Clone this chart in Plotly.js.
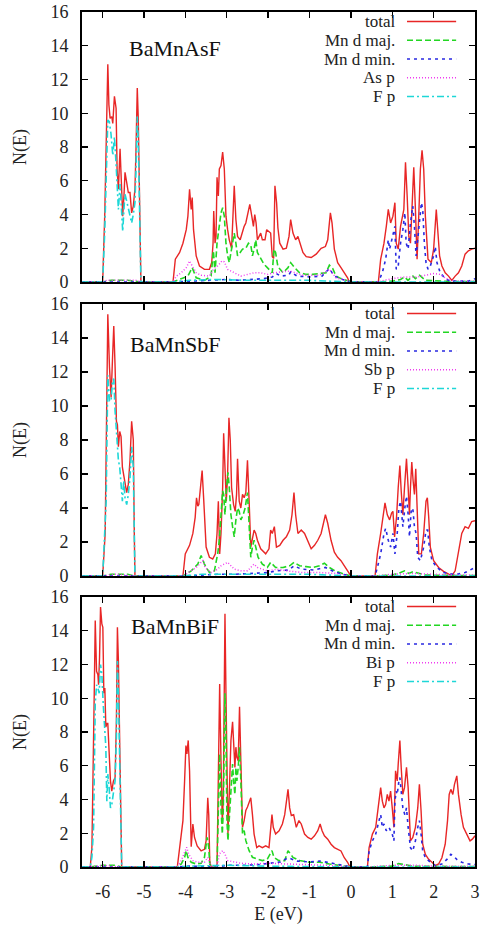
<!DOCTYPE html>
<html>
<head>
<meta charset="utf-8">
<script src="https://cdn.plot.ly/plotly-3.0.1.min.js"></script>
<style>html,body{margin:0;padding:0;background:#fff;}#chart{width:480px;height:928px;}</style>
</head>
<body>
<div id="chart"></div>
<script>
// ---------- data: [E (eV), N(E)] ----------
const compounds = ['BaMnAsF', 'BaMnSbF', 'BaMnBiF'];
const seriesNames = [
  ['total', 'Mn d maj.', 'Mn d min.', 'As p', 'F p'],
  ['total', 'Mn d maj.', 'Mn d min.', 'Sb p', 'F p'],
  ['total', 'Mn d maj.', 'Mn d min.', 'Bi p', 'F p']
];
const xTicks = [-6, -5, -4, -3, -2, -1, 0, 1, 2, 3];
const yTicks = [0, 2, 4, 6, 8, 10, 12, 14, 16];

// BaMnAsF
const asTotal = [[-6.5,0],[-6.0,0],[-5.95,4],[-5.9,10.5],[-5.876,12.9],[-5.85,10.5],[-5.82,9.7],[-5.78,9.8],[-5.756,9.4],[-5.716,11.0],[-5.676,10.3],[-5.652,6.7],[-5.62,5.5],[-5.58,7.9],[-5.54,5.5],[-5.516,3.9],[-5.484,5.2],[-5.46,6.5],[-5.42,5.9],[-5.38,5.3],[-5.34,5.3],[-5.3,4.1],[-5.26,4.5],[-5.22,5.5],[-5.196,7.7],[-5.164,11.5],[-5.14,9.7],[-5.1,2.3],[-5.076,0],
  [-4.3,0],[-4.244,1.35],[-4.14,1.75],[-4.06,2.3],[-3.98,3.1],[-3.94,3.9],[-3.9,5.5],[-3.86,4.3],[-3.836,5.0],[-3.804,3.1],[-3.74,1.55],[-3.66,0.95],[-3.54,0.75],[-3.42,0.75],[-3.364,1.15],[-3.332,2.3],[-3.316,4.2],[-3.284,2.3],[-3.26,2.7],[-3.236,6.2],[-3.204,5.1],[-3.18,6.7],[-3.14,6.9],[-3.1,7.7],[-3.06,6.7],[-3.02,3.9],[-2.98,3.1],[-2.94,2.5],[-2.884,2.0],[-2.852,4.3],[-2.82,5.7],[-2.78,3.7],[-2.74,2.7],[-2.676,2.5],[-2.62,3.0],[-2.58,3.3],[-2.54,3.5],[-2.5,3.9],[-2.444,4.6],[-2.396,3.9],[-2.356,3.3],[-2.324,4.0],[-2.292,3.5],[-2.26,2.5],[-2.22,2.7],[-2.18,2.9],[-2.14,2.5],[-2.076,2.5],[-2.036,3.1],[-1.98,3.0],[-1.94,2.9],[-1.9,1.5],[-1.868,1.4],[-1.836,5.7],[-1.796,4.7],[-1.764,3.2],[-1.72,2.3],[-1.64,1.95],[-1.56,2.0],[-1.496,2.7],[-1.456,3.7],[-1.4,2.9],[-1.336,2.5],[-1.28,2.7],[-1.224,2.3],[-1.16,1.75],[-1.08,1.5],[-0.96,1.45],[-0.84,1.65],[-0.72,2.0],[-0.616,2.1],[-0.56,2.5],[-0.496,4.1],[-0.456,3.5],[-0.4,1.95],[-0.32,1.15],[-0.24,0.85],[-0.16,0.55],[-0.08,0.25],[-0.04,0],
  [0.664,0],[0.72,1.35],[0.8,2.3],[0.856,3.3],[0.904,4.3],[0.96,3.5],[1.016,3.9],[1.064,4.7],[1.096,2.3],[1.144,1.95],[1.2,3.3],[1.28,4.3],[1.32,7.1],[1.36,5.1],[1.4,2.7],[1.44,2.3],[1.48,4.7],[1.52,6.8],[1.56,4.3],[1.6,1.35],[1.64,3.9],[1.68,6.7],[1.72,7.8],[1.76,6.7],[1.8,3.9],[1.864,1.35],[1.944,1.15],[2.0,1.95],[2.064,4.3],[2.104,3.1],[2.144,1.55],[2.2,0.95],[2.28,0.55],[2.36,0.35],[2.44,0.1],[2.52,0.35],[2.6,0.55],[2.68,0.95],[2.76,1.65],[2.84,1.85],[2.92,1.95],[3.0,2.0]];
const asMnMaj = [[-6.5,0],[-6.0,0],[-5.8,0.1],[-5.4,0.1],[-5.076,0],[-4.3,0],[-4.1,0.2],[-3.94,0.35],[-3.836,0.85],[-3.74,0.25],[-3.54,0.1],[-3.38,0.35],[-3.324,1.85],[-3.284,0.55],[-3.236,2.3],[-3.18,3.5],[-3.14,4.1],[-3.1,4.4],[-3.06,3.9],[-3.02,2.3],[-2.98,1.55],[-2.94,1.15],[-2.884,1.95],[-2.82,2.9],[-2.78,2.3],[-2.74,1.55],[-2.676,1.75],[-2.62,1.95],[-2.54,2.0],[-2.476,2.3],[-2.42,2.2],[-2.38,1.55],[-2.34,1.95],[-2.3,2.5],[-2.26,1.75],[-2.18,1.35],[-2.1,1.05],[-2.02,0.85],[-1.9,0.55],[-1.86,1.95],[-1.82,1.75],[-1.764,0.9],[-1.64,0.55],[-1.52,0.85],[-1.456,1.15],[-1.36,0.85],[-1.24,0.55],[-1.08,0.45],[-0.92,0.45],[-0.76,0.5],[-0.6,0.55],[-0.52,1.0],[-0.44,0.8],[-0.36,0.35],[-0.24,0.2],[-0.04,0.05],[0,0],
  [0.664,0],[1.0,0.05],[1.2,0.15],[1.3,0.3],[1.38,0.1],[1.5,0.35],[1.56,0.2],[1.66,0.4],[1.8,0.1],[2.2,0.05],[3.0,0.02]];
const asMnMin = [[-6.5,0],[-4.3,0],[-3.9,0.05],[-3.3,0.1],[-3.0,0.15],[-2.7,0.1],[-2.4,0.15],[-2.1,0.2],[-1.9,0.3],[-1.8,0.5],[-1.7,0.35],[-1.5,0.4],[-1.456,0.6],[-1.3,0.35],[-1.0,0.3],[-0.7,0.35],[-0.52,0.8],[-0.4,0.35],[-0.2,0.15],[0,0],
  [0.664,0],[0.76,0.55],[0.84,1.35],[0.904,2.5],[0.936,1.95],[1.016,2.7],[1.064,3.3],[1.096,0.75],[1.144,0.95],[1.2,2.3],[1.256,3.1],[1.304,4.1],[1.336,2.3],[1.384,1.95],[1.44,3.5],[1.496,4.5],[1.536,3.3],[1.576,1.55],[1.616,2.7],[1.656,3.5],[1.704,4.7],[1.736,4.3],[1.776,2.3],[1.816,1.15],[1.864,0.75],[1.92,0.95],[2.0,1.55],[2.04,2.1],[2.08,1.15],[2.16,0.55],[2.28,0.2],[2.4,0.05],[2.84,0.05],[3.0,0.2]];
const asP = [[-6.5,0],[-6.0,0],[-5.9,0.1],[-5.5,0.1],[-5.2,0.1],[-5.076,0],[-4.3,0],[-4.22,0.35],[-4.1,0.55],[-3.98,0.85],[-3.9,1.25],[-3.836,0.95],[-3.74,0.55],[-3.62,0.4],[-3.42,0.35],[-3.324,0.75],[-3.2,1.0],[-3.12,1.25],[-3.06,1.2],[-2.98,0.75],[-2.82,0.55],[-2.66,0.35],[-2.5,0.45],[-2.34,0.55],[-2.18,0.55],[-2.02,0.45],[-1.86,0.55],[-1.48,0.65],[-1.16,0.4],[-0.76,0.4],[-0.52,0.75],[-0.36,0.25],[-0.04,0.05],[0,0],
  [0.664,0],[0.8,0.1],[1.0,0.2],[1.3,0.3],[1.6,0.3],[1.8,0.4],[2.0,0.5],[2.16,0.45],[2.3,0.2],[2.5,0.05],[3.0,0.05]];
const asFp = [[-6.5,0],[-6.0,0],[-5.95,3],[-5.9,8.0],[-5.876,9.6],[-5.84,9.5],[-5.8,8.8],[-5.756,7.5],[-5.716,8.6],[-5.676,7.0],[-5.652,5.5],[-5.62,4.3],[-5.58,5.8],[-5.54,4.0],[-5.516,3.0],[-5.484,4.4],[-5.46,5.2],[-5.42,4.8],[-5.38,4.3],[-5.34,3.8],[-5.3,3.5],[-5.26,4.0],[-5.22,4.7],[-5.196,6.5],[-5.164,9.8],[-5.14,8.5],[-5.1,2.0],[-5.076,0],[-4.3,0],[-3.9,0.1],[-3.3,0.15],[-2.5,0.1],[-1.0,0.1],[0,0],[3.0,0]];

// BaMnSbF
const sbTotal = [[-6.5,0],[-6.0,0],[-5.94,2.5],[-5.916,8.4],[-5.876,15.4],[-5.836,12.3],[-5.796,10.5],[-5.764,12.7],[-5.732,14.7],[-5.7,12.3],[-5.668,9.1],[-5.644,8.9],[-5.62,7.6],[-5.588,8.5],[-5.556,8.2],[-5.524,6.4],[-5.492,6.0],[-5.46,5.4],[-5.42,4.9],[-5.38,5.4],[-5.34,6.8],[-5.3,9.1],[-5.26,8.0],[-5.236,2.5],[-5.22,0],
  [-4.06,0],[-4.004,1.3],[-3.9,1.8],[-3.82,2.5],[-3.764,3.45],[-3.732,4.6],[-3.7,4.1],[-3.676,4.2],[-3.636,5.2],[-3.596,6.2],[-3.556,4.4],[-3.5,1.7],[-3.42,1.1],[-3.34,1.0],[-3.276,1.3],[-3.236,2.5],[-3.204,4.4],[-3.172,1.3],[-3.14,2.5],[-3.1,5.2],[-3.076,8.4],[-3.044,6.4],[-3.012,4.4],[-2.98,6.0],[-2.948,9.3],[-2.916,8.0],[-2.884,5.2],[-2.836,4.2],[-2.796,3.8],[-2.764,4.8],[-2.74,6.9],[-2.7,4.4],[-2.66,4.0],[-2.62,4.8],[-2.58,4.6],[-2.54,4.9],[-2.5,6.8],[-2.46,4.4],[-2.42,1.7],[-2.38,2.2],[-2.34,2.7],[-2.3,2.5],[-2.26,2.1],[-2.18,1.6],[-2.06,1.3],[-1.98,1.6],[-1.94,2.7],[-1.9,2.5],[-1.85,2.9],[-1.8,1.7],[-1.72,1.8],[-1.64,2.1],[-1.56,2.3],[-1.48,2.7],[-1.424,3.6],[-1.376,4.9],[-1.336,3.6],[-1.28,2.5],[-1.2,2.7],[-1.12,2.5],[-1.04,2.1],[-0.96,1.6],[-0.88,1.8],[-0.8,2.1],[-0.72,2.5],[-0.656,3.3],[-0.616,3.6],[-0.56,3.1],[-0.48,2.1],[-0.4,1.4],[-0.32,1.1],[-0.24,0.9],[-0.16,0.6],[-0.08,0.3],[0.0,0],
  [0.584,0],[0.64,1.3],[0.72,2.5],[0.776,3.6],[0.824,4.3],[0.88,3.6],[0.936,3.3],[0.984,3.7],[1.016,3.8],[1.056,2.3],[1.104,3.5],[1.144,5.2],[1.184,6.5],[1.216,5.0],[1.256,3.6],[1.296,5.2],[1.344,6.9],[1.384,5.2],[1.416,3.6],[1.44,5.2],[1.472,6.7],[1.504,5.6],[1.536,4.8],[1.568,6.3],[1.6,4.4],[1.64,1.3],[1.704,1.3],[1.76,2.5],[1.816,4.4],[1.848,4.6],[1.88,3.5],[1.92,1.7],[2.0,0.9],[2.12,0.5],[2.24,0.27],[2.36,0.08],[2.44,0],[2.52,0.3],[2.6,1.3],[2.68,2.5],[2.76,2.9],[2.84,2.8],[2.92,3.2],[3.0,3.25]];
const sbMnMaj = [[-6.5,0],[-6.0,0],[-5.8,0.1],[-5.4,0.1],[-5.22,0],[-4.06,0],[-3.86,0.3],[-3.7,0.7],[-3.62,1.2],[-3.54,0.7],[-3.42,0.2],[-3.3,0.3],[-3.22,1.3],[-3.18,2.1],[-3.14,3.6],[-3.1,5.0],[-3.076,4.8],[-3.044,3.6],[-3.012,5.0],[-2.972,6.1],[-2.94,5.2],[-2.9,3.6],[-2.86,2.9],[-2.82,2.3],[-2.78,3.3],[-2.74,4.0],[-2.7,3.8],[-2.66,3.3],[-2.604,3.6],[-2.556,4.0],[-2.5,4.9],[-2.46,3.3],[-2.42,1.1],[-2.38,1.7],[-2.34,2.1],[-2.3,1.7],[-2.244,1.1],[-2.14,0.7],[-2.02,0.5],[-1.94,0.8],[-1.82,0.5],[-1.64,0.5],[-1.48,0.6],[-1.376,0.8],[-1.24,0.6],[-1.08,0.55],[-0.92,0.5],[-0.76,0.6],[-0.64,0.75],[-0.52,0.5],[-0.36,0.27],[-0.04,0.02],[0,0],
  [0.584,0],[1.0,0.05],[1.2,0.2],[1.3,0.3],[1.4,0.15],[1.5,0.25],[1.8,0.05],[3.0,0.02]];
const sbMnMin = [[-6.5,0],[-4.06,0],[-3.6,0.05],[-3.2,0.1],[-2.8,0.1],[-2.4,0.15],[-2.0,0.2],[-1.8,0.3],[-1.5,0.35],[-1.376,0.6],[-1.2,0.4],[-0.9,0.35],[-0.616,0.5],[-0.4,0.25],[-0.2,0.1],[0,0],
  [0.584,0],[0.64,0.5],[0.72,1.3],[0.8,2.5],[0.84,2.8],[0.904,2.1],[0.96,1.7],[1.016,2.5],[1.064,1.3],[1.12,2.5],[1.16,4.0],[1.2,4.4],[1.224,3.6],[1.256,2.9],[1.304,4.0],[1.344,4.7],[1.384,3.6],[1.416,2.3],[1.456,3.8],[1.496,4.0],[1.536,2.9],[1.576,2.5],[1.616,1.1],[1.68,0.9],[1.76,1.7],[1.816,2.7],[1.856,2.7],[1.896,1.7],[1.96,0.9],[2.08,0.5],[2.24,0.2],[2.52,0.08],[2.76,0.2],[2.92,0.4],[3.0,0.5]];
const sbP = [[-6.5,0],[-6.0,0],[-5.7,0.1],[-5.22,0],[-4.06,0],[-3.86,0.3],[-3.74,0.5],[-3.66,0.7],[-3.58,0.9],[-3.524,0.5],[-3.38,0.2],[-3.22,0.4],[-3.14,0.6],[-3.06,0.7],[-2.98,0.8],[-2.9,0.6],[-2.82,0.4],[-2.66,0.3],[-2.5,0.3],[-2.34,0.7],[-2.26,0.5],[-2.02,0.3],[-1.78,0.4],[-1.56,0.3],[-1.16,0.2],[-0.76,0.2],[-0.36,0.15],[0,0],
  [0.584,0],[1.0,0.1],[1.5,0.15],[2.0,0.1],[2.5,0.05],[3.0,0.05]];
const sbFp = [[-6.5,0],[-6.0,0],[-5.916,4.4],[-5.876,11.8],[-5.836,10.3],[-5.796,10.3],[-5.764,11.5],[-5.732,11.6],[-5.7,9.7],[-5.668,8.2],[-5.62,6.8],[-5.588,6.4],[-5.556,5.2],[-5.524,4.4],[-5.492,5.6],[-5.46,4.6],[-5.42,4.2],[-5.38,4.8],[-5.34,5.8],[-5.3,7.6],[-5.26,6.4],[-5.236,2.1],[-5.22,0],[-4.06,0],[-3.6,0.1],[-3.0,0.1],[-2.0,0.1],[-1.0,0.1],[0,0],[3.0,0]];

// BaMnBiF
const biTotal = [[-6.5,0],[-6.3,0],[-6.26,1.2],[-6.236,4.3],[-6.204,10.3],[-6.18,14.6],[-6.148,11.6],[-6.116,11.4],[-6.1,10.8],[-6.076,12.4],[-6.052,15.4],[-6.02,14.4],[-5.996,14.2],[-5.972,10.3],[-5.948,10.6],[-5.924,8.3],[-5.9,8.5],[-5.876,8.5],[-5.844,6.3],[-5.812,5.1],[-5.78,4.5],[-5.74,5.1],[-5.7,5.3],[-5.668,8.7],[-5.644,14.2],[-5.62,12.2],[-5.596,8.5],[-5.564,2.35],[-5.54,0],
  [-4.196,0],[-4.14,1.2],[-4.06,2.75],[-4.02,5.1],[-3.988,7.2],[-3.964,6.7],[-3.932,7.5],[-3.9,5.7],[-3.86,1.2],[-3.82,2.55],[-3.78,1.75],[-3.716,1.25],[-3.62,0.95],[-3.54,1.05],[-3.5,1.55],[-3.46,4.1],[-3.436,3.1],[-3.412,0.35],[-3.38,0],[-3.236,0],[-3.204,4.3],[-3.172,10.85],[-3.14,6.3],[-3.108,2.55],[-3.084,4.3],[-3.06,10.3],[-3.044,15.0],[-3.02,10.3],[-2.996,4.3],[-2.972,1.95],[-2.94,4.3],[-2.9,7.5],[-2.86,8.6],[-2.836,7.1],[-2.804,5.9],[-2.78,7.1],[-2.756,6.5],[-2.724,6.3],[-2.692,9.5],[-2.66,6.3],[-2.62,2.35],[-2.58,2.75],[-2.54,3.35],[-2.5,3.55],[-2.46,3.9],[-2.42,4.1],[-2.38,3.1],[-2.34,1.95],[-2.276,1.15],[-2.22,1.25],[-2.14,1.15],[-2.06,1.25],[-1.98,1.15],[-1.94,2.35],[-1.908,3.1],[-1.876,2.35],[-1.82,1.95],[-1.736,2.15],[-1.656,2.55],[-1.6,3.1],[-1.56,3.9],[-1.52,4.6],[-1.48,3.5],[-1.44,3.05],[-1.384,3.1],[-1.32,2.35],[-1.256,2.75],[-1.2,2.55],[-1.12,1.95],[-1.04,1.75],[-0.96,1.65],[-0.88,1.85],[-0.8,2.15],[-0.744,2.55],[-0.696,2.15],[-0.64,1.85],[-0.56,1.65],[-0.48,1.35],[-0.4,1.15],[-0.32,1.05],[-0.24,0.95],[-0.16,0.55],[-0.08,0.28],[-0.024,0],
  [0.4,0],[0.44,1.15],[0.52,1.95],[0.6,2.35],[0.664,3.5],[0.72,4.7],[0.76,3.9],[0.8,3.5],[0.84,3.7],[0.88,4.3],[0.92,3.9],[0.96,4.5],[1.0,3.5],[1.04,2.35],[1.08,5.7],[1.12,5.1],[1.144,6.1],[1.184,7.5],[1.216,5.9],[1.256,4.3],[1.296,4.7],[1.344,5.9],[1.384,4.7],[1.44,1.55],[1.496,1.75],[1.56,2.35],[1.616,3.5],[1.656,4.9],[1.696,3.35],[1.736,1.35],[1.8,0.75],[1.88,0.45],[1.96,0.28],[2.04,0.08],[2.12,0.18],[2.2,0.55],[2.28,1.35],[2.336,2.75],[2.376,4.3],[2.416,4.6],[2.464,4.3],[2.504,4.9],[2.56,5.4],[2.6,4.3],[2.664,3.1],[2.72,2.35],[2.8,1.95],[2.88,1.55],[2.936,1.65],[3.0,1.85]];
const biMnMaj = [[-6.5,0],[-6.3,0],[-6.0,0.1],[-5.7,0.1],[-5.54,0],[-4.196,0],[-4.1,0.18],[-4.02,0.57],[-3.98,0.97],[-3.94,0.57],[-3.86,0.28],[-3.74,0.18],[-3.62,0.22],[-3.54,0.57],[-3.476,1.76],[-3.436,1.17],[-3.412,0.18],[-3.38,0],[-3.236,0],[-3.204,3.3],[-3.172,6.7],[-3.14,3.5],[-3.108,1.95],[-3.084,3.5],[-3.06,8.3],[-3.044,10.3],[-3.02,7.9],[-2.996,2.75],[-2.972,1.56],[-2.94,2.95],[-2.9,5.1],[-2.86,6.1],[-2.836,5.1],[-2.804,4.3],[-2.78,5.9],[-2.756,5.1],[-2.724,5.9],[-2.692,7.1],[-2.66,5.1],[-2.62,1.95],[-2.58,2.15],[-2.54,1.56],[-2.46,0.97],[-2.38,0.57],[-2.26,0.47],[-2.14,0.38],[-2.02,0.47],[-1.94,0.77],[-1.908,0.97],[-1.86,0.57],[-1.74,0.38],[-1.6,0.38],[-1.52,0.97],[-1.4,0.57],[-1.24,0.38],[-1.0,0.28],[-0.76,0.28],[-0.52,0.18],[-0.2,0.08],[0,0],
  [0.4,0],[1.0,0.05],[1.15,0.2],[1.25,0.15],[1.5,0.05],[3.0,0.02]];
const biMnMin = [[-6.5,0],[-4.196,0],[-3.9,0.05],[-3.38,0],[-3.236,0],[-3.0,0.1],[-2.6,0.1],[-2.2,0.15],[-1.9,0.25],[-1.7,0.3],[-1.52,0.55],[-1.3,0.35],[-1.0,0.3],[-0.75,0.35],[-0.5,0.25],[-0.2,0.1],[0,0],
  [0.4,0],[0.44,0.95],[0.52,1.55],[0.6,1.95],[0.68,2.75],[0.72,3.1],[0.76,2.35],[0.8,2.55],[0.856,2.15],[0.92,2.35],[0.96,2.15],[1.0,1.95],[1.04,1.55],[1.064,3.9],[1.096,4.5],[1.12,4.3],[1.16,5.1],[1.184,5.3],[1.216,4.5],[1.256,3.5],[1.304,3.1],[1.344,3.5],[1.384,2.35],[1.44,1.15],[1.496,0.95],[1.56,1.55],[1.616,2.35],[1.656,2.75],[1.696,1.95],[1.736,0.95],[1.8,0.55],[1.92,0.28],[2.04,0.08],[2.2,0.18],[2.32,0.45],[2.416,0.75],[2.48,0.65],[2.56,0.45],[2.68,0.28],[2.84,0.18],[3.0,0.14]];
const biP = [[-6.5,0],[-6.3,0],[-6.0,0.1],[-5.54,0],[-4.196,0],[-4.1,0.38],[-4.02,0.87],[-3.97,1.17],[-3.924,0.77],[-3.82,0.38],[-3.7,0.28],[-3.54,0.28],[-3.46,0.57],[-3.412,0.18],[-3.38,0],[-3.236,0],[-3.18,0.77],[-3.1,0.97],[-3.044,0.77],[-2.98,0.38],[-2.82,0.28],[-2.66,0.22],[-2.34,0.18],[-2.02,0.22],[-1.56,0.18],[-1.16,0.14],[-0.76,0.14],[-0.36,0.08],[0,0],
  [0.4,0],[1.0,0.1],[1.6,0.1],[2.0,0.05],[3.0,0.05]];
const biFp = [[-6.5,0],[-6.3,0],[-6.26,0.6],[-6.22,2.35],[-6.18,9.7],[-6.148,10.8],[-6.116,10.6],[-6.084,10.3],[-6.052,12.0],[-6.02,11.4],[-5.988,9.7],[-5.956,8.3],[-5.924,7.1],[-5.9,3.9],[-5.876,5.5],[-5.844,4.7],[-5.812,3.5],[-5.78,3.7],[-5.74,4.5],[-5.7,5.1],[-5.668,7.7],[-5.644,12.2],[-5.62,10.3],[-5.596,7.3],[-5.564,2.0],[-5.54,0],[-4.196,0],[-3.9,0.05],[-3.0,0.1],[-2.0,0.05],[0,0],[3.0,0]];

const panels = [
  [asTotal, asMnMaj, asMnMin, asP, asFp],
  [sbTotal, sbMnMaj, sbMnMin, sbP, sbFp],
  [biTotal, biMnMaj, biMnMin, biP, biFp]
];

// ---------- styles ----------
const FONT = 'Liberation Serif, Times New Roman, serif';
const styles = [
  {color: 'rgb(232,38,38)', width: 1.4, dash: 'solid'},
  {color: 'rgb(34,214,34)', width: 1.6, dash: '6px,3px'},
  {color: 'rgb(40,40,225)', width: 1.6, dash: '3px,4px'},
  {color: 'rgb(240,60,240)', width: 1.5, dash: '1px,2px'},
  {color: 'rgb(30,215,215)', width: 1.6, dash: '7px,3px,2px,3px'}
];

const domains = [[0.6842, 1.0], [0.3404, 0.6585], [0.0, 0.3158]];
const panelH = [270, 272, 270];
const labelOffset = [36.5, 41, 29.5];
const legendOffsets = [9.5, 28.3, 47, 65.7, 84.5];

const traces = [];
const annotations = [];
const shapes = [];
const layout = {
  width: 480, height: 928,
  margin: {l: 82, r: 5, t: 12, b: 61},
  paper_bgcolor: '#fff', plot_bgcolor: '#fff',
  showlegend: false,
  font: {family: FONT, size: 18, color: '#222'}
};

panels.forEach((series, p) => {
  const sfx = p === 0 ? '' : String(p + 1);
  series.forEach((pts, s) => {
    traces.push({
      type: 'scatter', mode: 'lines',
      x: pts.map(d => d[0]), y: pts.map(d => d[1]),
      xaxis: 'x' + sfx, yaxis: 'y' + sfx,
      name: seriesNames[p][s],
      line: {color: styles[s].color, width: styles[s].width, dash: styles[s].dash},
      hoverinfo: 'skip'
    });
  });
  const common = {
    showline: true, linecolor: '#000', linewidth: 2, mirror: 'ticks',
    ticks: 'inside', ticklen: 6, tickwidth: 1.4, tickcolor: '#000',
    showgrid: false, zeroline: false, fixedrange: true,
    ticklabeloverflow: 'allow'
  };
  layout['xaxis' + sfx] = Object.assign({}, common, {
    anchor: 'y' + sfx, range: [-6.5, 3], tickmode: 'array', tickvals: xTicks,
    ticktext: xTicks.map(String),
    showticklabels: p === 2,
    tickfont: {family: FONT, size: 18, color: '#222'},
    ticklabelstandoff: 7,
    title: p === 2 ? {text: 'E (eV)', font: {family: FONT, size: 18, color: '#222'}, standoff: 7} : undefined
  });
  layout['yaxis' + sfx] = Object.assign({}, common, {
    anchor: 'x' + sfx, domain: domains[p], range: [0, 16],
    tickmode: 'array', tickvals: yTicks, ticktext: yTicks.map(String),
    tickfont: {family: FONT, size: 18, color: '#222'},
    ticklabelstandoff: 8,
    title: {text: 'N(E)', font: {family: FONT, size: 18, color: '#222'}, standoff: 19}
  });
  const xd = 'x' + sfx + ' domain', yd = 'y' + sfx + ' domain';
  annotations.push({
    xref: xd, yref: yd, x: 0.2366, y: 1 - labelOffset[p] / panelH[p],
    xanchor: 'center', yanchor: 'middle', showarrow: false,
    text: compounds[p], font: {family: FONT, size: 22, color: '#111'}
  });
  seriesNames[p].forEach((nm, s) => {
    const yy = 1 - legendOffsets[s] / panelH[p];
    annotations.push({
      xref: xd, yref: yd, x: 0.799, y: yy, xanchor: 'right', yanchor: 'middle',
      showarrow: false, text: nm, borderpad: 0,
      font: {family: FONT, size: 17, color: '#222'}
    });
    shapes.push({
      type: 'line', xref: xd, yref: yd, x0: 0.827, x1: 0.952, y0: yy, y1: yy,
      line: {color: styles[s].color, width: styles[s].width, dash: styles[s].dash}
    });
  });
});
layout.annotations = annotations;
layout.shapes = shapes;

Plotly.newPlot('chart', traces, layout, {staticPlot: true, displayModeBar: false});
</script>
</body>
</html>
